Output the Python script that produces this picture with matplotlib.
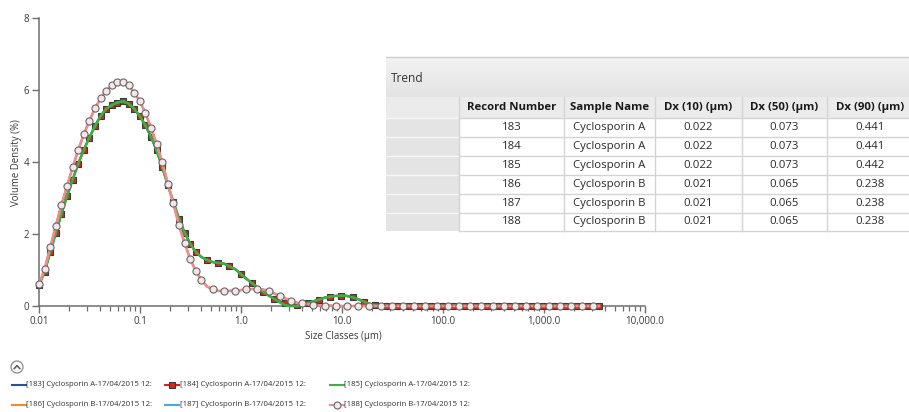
import matplotlib
matplotlib.use("Agg")
import matplotlib.pyplot as plt
import numpy as np
from matplotlib.patches import Rectangle, Circle
from matplotlib.ticker import FixedLocator, FixedFormatter, LogLocator, NullFormatter

plt.rcParams['font.family'] = ['Open Sans', 'DejaVu Sans']

W, H = 909, 412

# ---------------- data ----------------
# instrument size classes (µm): 101 log-spaced class edges from 0.01 to 3500 µm
size_classes = np.geomspace(0.01, 3500, 101)

# Cyclosporin A (records 183/184/185) volume density (%)
vol_A = [0.58, 0.95, 1.50, 2.03, 2.56, 3.05, 3.51, 3.95, 4.34, 4.68,
         5.00, 5.28, 5.48, 5.58, 5.65, 5.69, 5.62, 5.48, 5.27, 5.02,
         4.70, 4.33, 3.86, 3.36, 2.89, 2.42, 2.04, 1.73, 1.50, 1.36,
         1.28, 1.22, 1.20, 1.18, 1.10, 1.03, 0.89, 0.76, 0.64, 0.52,
         0.40, 0.29, 0.20, 0.12, 0.08, 0.06, 0.04, 0.03, 0.07, 0.13,
         0.18, 0.23, 0.26, 0.28, 0.29, 0.28, 0.24, 0.19, 0.12, 0.06,
         0.02] + [0.0] * 40
vol_185 = [0.58, 0.95, 1.50, 2.03, 2.56, 3.05, 3.51, 3.95, 4.34, 4.68,
           5.00, 5.28, 5.48, 5.58, 5.65, 5.69, 5.62, 5.48, 5.27, 5.02,
           4.70, 4.33, 3.86, 3.36, 2.89, 2.42, 2.04, 1.73, 1.50, 1.36,
           1.28, 1.22, 1.20, 1.18, 1.10, 1.03, 0.89, 0.76, 0.64, 0.52,
           0.40, 0.29, 0.20, 0.10, 0.02, 0.0, 0.0, 0.02, 0.07, 0.13,
           0.18, 0.23, 0.26, 0.28, 0.29, 0.28, 0.24, 0.19, 0.12, 0.06,
           0.01] + [0.0] * 40
# Cyclosporin B (records 186/187/188)
vol_B = [0.60, 1.02, 1.63, 2.22, 2.80, 3.33, 3.85, 4.33, 4.77, 5.15,
         5.49, 5.77, 5.98, 6.13, 6.21, 6.22, 6.13, 5.93, 5.69, 5.36,
         4.95, 4.50, 4.00, 3.40, 2.85, 2.24, 1.75, 1.31, 0.97, 0.73,
         0.54, 0.47, 0.42, 0.42, 0.42, 0.43, 0.44, 0.46, 0.47, 0.47,
         0.46, 0.41, 0.35, 0.28, 0.21, 0.15, 0.09, 0.07, 0.05, 0.03,
         0.02, 0.01, 0.01] + [0.0] * 48

legend_labels = ["[183] Cyclosporin A-17/04/2015 12:", "[184] Cyclosporin A-17/04/2015 12:",
                 "[185] Cyclosporin A-17/04/2015 12:", "[186] Cyclosporin B-17/04/2015 12:",
                 "[187] Cyclosporin B-17/04/2015 12:", "[188] Cyclosporin B-17/04/2015 12:"]

x_tick_values = [0.01, 0.1, 1, 10, 100, 1000, 10000]
x_tick_labels = ["0.01", "0.1", "1.0", "10.0", "100.0", "1,000.0", "10,000.0"]
y_tick_values = [0, 2, 4, 6, 8]

table_title = "Trend"
table_columns = ["Record Number", "Sample Name", "Dx (10) (µm)", "Dx (50) (µm)", "Dx (90) (µm)"]
record_numbers = ["183", "184", "185", "186", "187", "188"]
sample_names = ["Cyclosporin A", "Cyclosporin A", "Cyclosporin A",
                "Cyclosporin B", "Cyclosporin B", "Cyclosporin B"]
dx10 = ["0.022", "0.022", "0.022", "0.021", "0.021", "0.021"]
dx50 = ["0.073", "0.073", "0.073", "0.065", "0.065", "0.065"]
dx90 = ["0.441", "0.441", "0.442", "0.238", "0.238", "0.238"]

# ---------------- figure ----------------
fig = plt.figure(figsize=(W / 100, H / 100), dpi=100)
fig.patch.set_facecolor('white')

ax = fig.add_axes([39 / W, 1 - 306 / H, (645 - 39) / W, (306 - 18) / H])
ax.set_xscale('log')
ax.set_xlim(0.01, 10000)
ax.set_ylim(0, 8)
ax.set_facecolor('none')
for s in ['top', 'right']:
    ax.spines[s].set_visible(False)
for s in ['left', 'bottom']:
    ax.spines[s].set_color('#6e6e6e')
    ax.spines[s].set_linewidth(1.1)
    ax.spines[s].set_zorder(1)

ax.xaxis.set_major_locator(FixedLocator(x_tick_values))
ax.xaxis.set_major_formatter(FixedFormatter(x_tick_labels))
ax.xaxis.set_minor_locator(LogLocator(base=10, subs=np.arange(2, 10)))
ax.xaxis.set_minor_formatter(NullFormatter())
ax.set_yticks(y_tick_values)
ax.tick_params(axis='both', which='major', direction='out', length=5, width=1,
               color='#6e6e6e', labelsize=7, labelcolor='#3a3a3a', pad=2)
ax.tick_params(axis='x', which='minor', direction='out', length=3.5, width=0.9, color='#6e6e6e')

x = size_classes
n = len(x)
mk_A = list(range(0, 29)) + list(range(30, n, 2))
mk_B = list(range(0, 30)) + list(range(31, n, 2))

ax.plot(x, vol_A, color='#2a4fa8', lw=1.4, zorder=3, clip_on=False)
ax.plot(x, vol_A, color='#e02020', lw=1.4, zorder=4, clip_on=False,
        marker='s', markersize=5.0, markerfacecolor='#d8261c', markeredgecolor='#3a3a3a',
        markeredgewidth=0.8, markevery=mk_A)
ax.plot(x, vol_185, color='#3cb043', lw=1.9, zorder=5, clip_on=False)
ax.plot(x, vol_B, color='#f08a30', lw=1.3, zorder=6, clip_on=False)
ax.plot(x, vol_B, color='#4aa8e8', lw=1.3, zorder=7, clip_on=False)
ax.plot(x, vol_B, color='#f08c8c', lw=1.9, zorder=8, clip_on=False,
        marker='o', markersize=5.1, markerfacecolor='#f6e6e6', markeredgecolor='#666666',
        markeredgewidth=0.8, markevery=mk_B)

fig.text(17 / W, 1 - 163 / H, "Volume Density (%)", rotation=90, ha='center', va='center',
         fontsize=6.9, color='#3a3a3a')
fig.text(343 / W, 1 - 336 / H, "Size Classes (µm)", ha='center', va='center',
         fontsize=6.9, color='#3a3a3a')

# ---------------- overlay (table + legend) in pixel coordinates ----------------
ov = fig.add_axes([0, 0, 1, 1])
ov.set_xlim(0, W)
ov.set_ylim(H, 0)
ov.axis('off')
ov.set_facecolor('none')

# Trend header band
grad = np.linspace(0, 1, 50).reshape(-1, 1)
ov.imshow(grad, extent=(386, 912, 97, 57), cmap=matplotlib.colors.LinearSegmentedColormap.from_list(
    'g', ['#f3f3f3', '#e3e3e3']), aspect='auto', zorder=1)
ov.plot([386, 912], [57, 57], color='#cfcfcf', lw=1, zorder=2)
ov.text(391, 78, table_title, ha='left', va='center', fontsize=8.6, color='#333333', zorder=3)

col_bounds = [386, 459, 564, 655, 742, 827, 914]
row_bounds = [97, 118, 137, 156, 175, 193.5, 212.5, 231]

# header row
ov.add_patch(Rectangle((386, 97), 912 - 386, 21, facecolor='#ebebeb', edgecolor='none', zorder=1))
# row header column
for r in range(6):
    y0 = row_bounds[r + 1]
    ov.add_patch(Rectangle((386, y0), col_bounds[1] - 386, row_bounds[r + 2] - y0,
                           facecolor='#e4e4e4', edgecolor='none', zorder=1))
    ov.plot([386, col_bounds[1]], [y0, y0], color='#f7f7f7', lw=1, zorder=2)
# grid lines
for cb in col_bounds[1:-1]:
    ov.plot([cb, cb], [97, 231], color='#d4d4d4', lw=1, zorder=2)
for rb in row_bounds[1:]:
    ov.plot([col_bounds[1], 912], [rb, rb], color='#d4d4d4', lw=1, zorder=2)

centers = [(col_bounds[i] + col_bounds[i + 1]) / 2 for i in range(1, 6)]
centers[-1] = 870
for c, label in zip(centers, table_columns):
    ov.text(c, 107.5, label, ha='center', va='center', fontsize=8.2, fontweight='bold',
            color='#1a1a1a', zorder=3)
cols = [record_numbers, sample_names, dx10, dx50, dx90]
for r in range(6):
    yc = (row_bounds[r + 1] + row_bounds[r + 2]) / 2
    for c, colvals in zip(centers, cols):
        ov.text(c, yc, colvals[r], ha='center', va='center', fontsize=8.2,
                color='#2a2a2a', zorder=3)

# collapse icon
ov.add_patch(Circle((17, 367), 6, facecolor='white', edgecolor='#8a8a8a', lw=0.9, zorder=3))
ov.plot([14.2, 17, 19.8], [368.6, 365.6, 368.6], color='#555555', lw=1.1, zorder=4)

# legend
leg_styles = [
    dict(color='#2a4fa8'),
    dict(color='#e02020', marker='s', markersize=5.0, markerfacecolor='#d8261c',
         markeredgecolor='#3a3a3a', markeredgewidth=0.8, markevery=[1]),
    dict(color='#3cb043'),
    dict(color='#f08a30'),
    dict(color='#4aa8e8'),
    dict(color='#f08c8c', marker='o', markersize=5.0, markerfacecolor='#f6e6e6',
         markeredgecolor='#666666', markeredgewidth=0.8, markevery=[1]),
]
col_x = [12, 165, 330]
row_y = [385, 405]
for k, (label, st) in enumerate(zip(legend_labels, leg_styles)):
    rr, cc = divmod(k, 3)
    x0 = col_x[cc]
    yy = row_y[rr]
    ov.plot([x0, x0 + 7, x0 + 14], [yy, yy, yy], lw=1.5, zorder=3, **st)
    ov.text(x0 + 14.5, yy, label, ha='left', va='center', fontsize=5.6,
            color='#333333', zorder=3)

fig.savefig('out.png', dpi=100, facecolor='white')
